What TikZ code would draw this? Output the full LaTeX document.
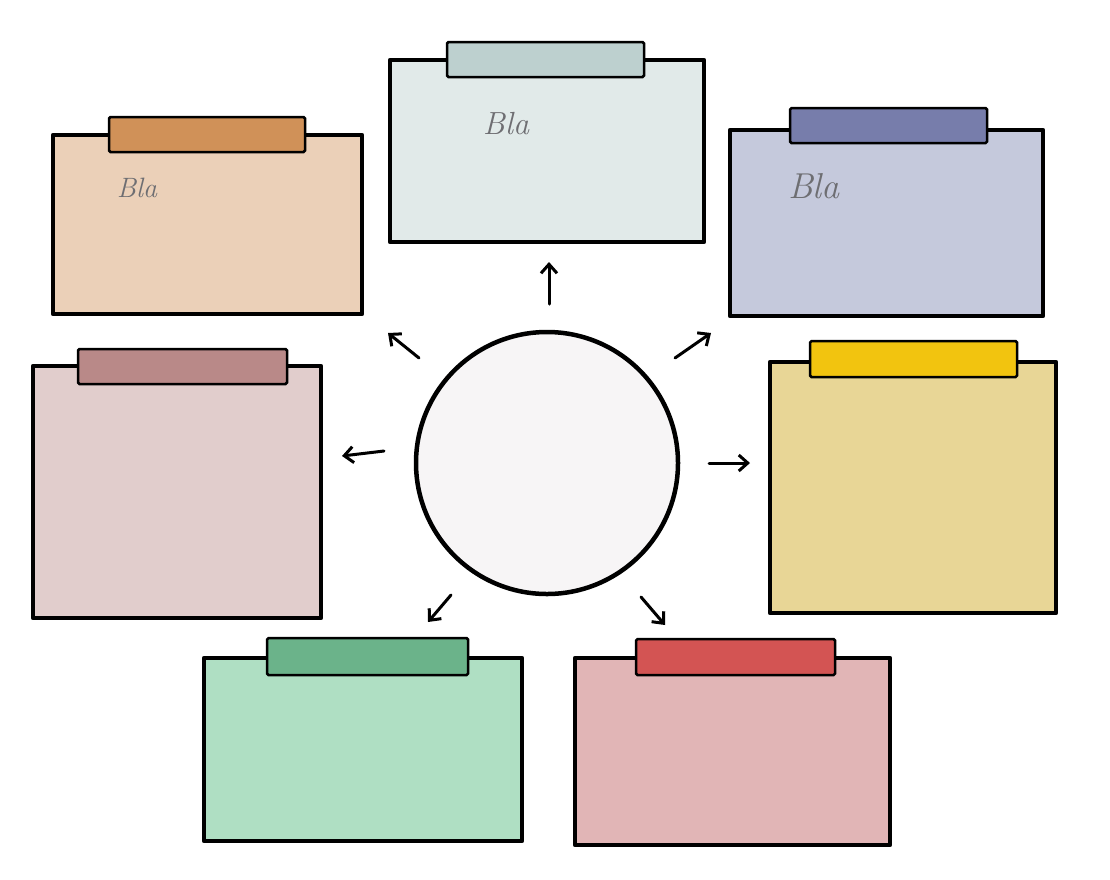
\documentclass[tikz,border=0pt]{standalone}
\usetikzlibrary{arrows.meta}
\definecolor{c1}{HTML}{EBD0B8}\definecolor{t1}{HTML}{D09158}
\definecolor{c2}{HTML}{E1EAE9}\definecolor{t2}{HTML}{BDD0CF}
\definecolor{c3}{HTML}{C5C9DC}\definecolor{t3}{HTML}{777DAB}
\definecolor{c4}{HTML}{E8D696}\definecolor{t4}{HTML}{F2C40F}
\definecolor{c5}{HTML}{E1B5B6}\definecolor{t5}{HTML}{D35453}
\definecolor{c6}{HTML}{AFDFC3}\definecolor{t6}{HTML}{6BB38A}
\definecolor{c7}{HTML}{E1CDCC}\definecolor{t7}{HTML}{B98988}
\definecolor{hub}{HTML}{F7F5F6}
\definecolor{ink}{HTML}{6E6E72}
\begin{document}
\begin{tikzpicture}[x=1pt,y=-1pt,
  card/.style={draw=black,line width=4.5pt,line join=round},
  tabbox/.style={draw=black,line width=2.5pt,rounded corners=1.5pt},
  spoke/.style={line width=3pt,line cap=round,-{Straight Barb[length=9pt,width=16pt,line width=3pt]}},
  hand/.style={text=ink,inner sep=0pt}]
\useasboundingbox[fill=white] (0,0) rectangle (1110,879);
% cards
\path[card,fill=c1] (53,135) rectangle (362,314);
\path[tabbox,fill=t1] (109,117) rectangle (305,152);
\path[card,fill=c2] (390,60) rectangle (704,242);
\path[tabbox,fill=t2] (447,42) rectangle (644,77);
\path[card,fill=c3] (730,130) rectangle (1043,316);
\path[tabbox,fill=t3] (790,108) rectangle (987,143);
\path[card,fill=c4] (770,362) rectangle (1056,613);
\path[tabbox,fill=t4] (810,341) rectangle (1017,377);
\path[card,fill=c5] (575,658) rectangle (890,845);
\path[tabbox,fill=t5] (636,639) rectangle (835,675);
\path[card,fill=c6] (204,658) rectangle (522,841);
\path[tabbox,fill=t6] (267,638) rectangle (468,675);
\path[card,fill=c7] (33,366) rectangle (321,618);
\path[tabbox,fill=t7] (78,349) rectangle (287,384);
% texts
\node[hand,font=\itshape\fontsize{28}{28}\selectfont] (b1) at (137,188) {Bla};
\node[hand,font=\itshape\fontsize{32}{32}\selectfont] (b2) at (506,124) {Bla};
\node[hand,font=\itshape\fontsize{36}{36}\selectfont] (b3) at (814,186) {Bla};
% hub
\node[circle,draw=black,line width=4.5pt,fill=hub,minimum size=262pt,inner sep=0pt] (hub) at (547,463) {};
% spokes
\coordinate (s1a) at (549,304); \coordinate (s1b) at (549,262);
\coordinate (s2a) at (675,358); \coordinate (s2b) at (711,333);
\coordinate (s3a) at (709,463); \coordinate (s3b) at (750,463);
\coordinate (s4a) at (641,597); \coordinate (s4b) at (665,625);
\coordinate (s5a) at (451,595); \coordinate (s5b) at (428,622);
\coordinate (s6a) at (384,451); \coordinate (s6b) at (342,456);
\coordinate (s7a) at (419,358); \coordinate (s7b) at (388,333);
\foreach \i in {1,...,7} {\draw[spoke] (s\i a) -- (s\i b);}
\end{tikzpicture}
\end{document}
